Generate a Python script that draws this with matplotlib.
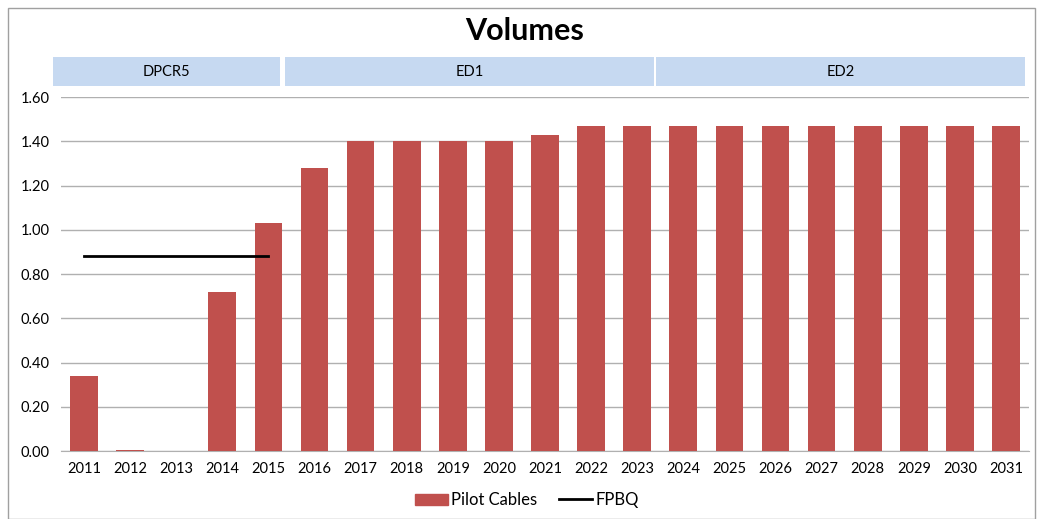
import numpy as np
import matplotlib.pyplot as plt
from matplotlib.patches import Rectangle, Patch
from matplotlib.lines import Line2D

plt.rcParams['font.family'] = ['Lato', 'DejaVu Sans']

# data
years = [str(y) for y in range(2011, 2032)]
pilot_cables = [0.34, 0.005, 0.0, 0.72, 1.03, 1.28, 1.40, 1.40, 1.40, 1.40, 1.43,
                1.47, 1.47, 1.47, 1.47, 1.47, 1.47, 1.47, 1.47, 1.47, 1.47]
fpbq_years = ['2011', '2015']
fpbq = [0.88, 0.88]
periods = ['DPCR5', 'ED1', 'ED2']
period_len = [5, 8, 8]

bar_col = '#C0504D'
band_col = '#C6D9F1'

fig = plt.figure(figsize=(10.39, 5.19), dpi=100)
fig.patches.append(Rectangle((0.008, 0.0), 0.988, 0.985, transform=fig.transFigure,
                             fill=False, edgecolor='#A0A0A0', linewidth=1))

ax = fig.add_axes([0.0587, 0.131, 0.9317, 0.682])
x = np.arange(len(years))
ax.bar(x, pilot_cables, width=0.6, color=bar_col, zorder=3)
fx = [years.index(y) for y in fpbq_years]
ax.plot(fx, fpbq, color='black', linewidth=2, zorder=4)

ax.set_xlim(-0.5, len(years) - 0.5)
ax.set_ylim(0, 1.6)
ax.set_yticks(np.arange(0, 1.61, 0.2))
ax.set_yticklabels(['%.2f' % v for v in np.arange(0, 1.61, 0.2)], fontsize=10.5)
ax.set_xticks(x)
ax.set_xticklabels(years, fontsize=10.5)
ax.tick_params(length=0, pad=8)
ax.yaxis.grid(True, color='#B0B0B0', linewidth=1, zorder=0)
for s in ['left', 'right', 'top']:
    ax.spines[s].set_visible(False)
ax.spines['bottom'].set_color('#B0B0B0')

# period header bands
bx = fig.add_axes([0.051, 0.834, 0.938, 0.056])
start = 0
for name, n in zip(periods, period_len):
    w = 4.9 if n == 5 else 7.95
    bx.barh(0, w, left=start, height=1, color=band_col, align='center')
    bx.text(start + w / 2, 0, name, ha='center', va='center', fontsize=10.5)
    start += n
bx.set_xlim(0, start)
bx.set_ylim(-0.5, 0.5)
bx.axis('off')

fig.text(0.505, 0.94, 'Volumes', ha='center', va='center', fontsize=22, fontweight='bold')

handles = [Patch(color=bar_col, label='Pilot Cables'),
           Line2D([0], [0], color='black', linewidth=2, label='FPBQ')]
fig.legend(handles=handles, loc='center', bbox_to_anchor=(0.507, 0.036), ncol=2,
           frameon=False, fontsize=12, handlelength=2.0, handletextpad=0.2, columnspacing=1.3)

fig.savefig('out.png', dpi=100)
